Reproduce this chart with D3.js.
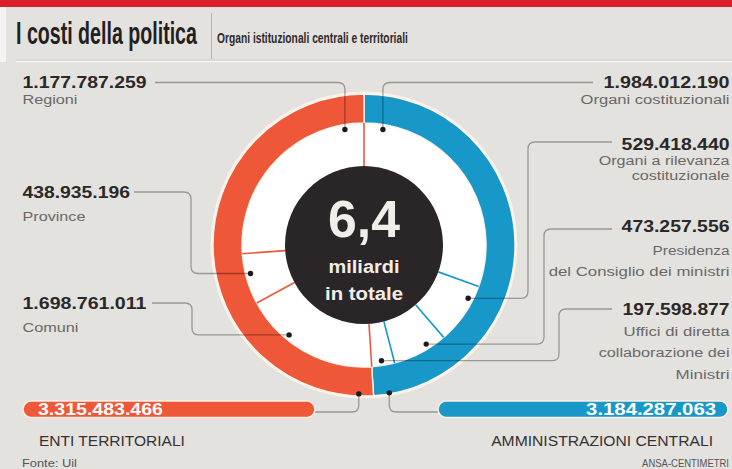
<!DOCTYPE html>
<html><head><meta charset="utf-8">
<script src="https://cdn.jsdelivr.net/npm/d3@7"></script>
<style>html,body{margin:0;padding:0;background:#e4e2de;}svg{display:block;}</style>
</head><body>
<svg id="c" width="732" height="469"></svg>
<script>
// ---------- DATA ----------
const categories = ["Organi costituzionali", "Organi a rilevanza costituzionale", "Presidenza del Consiglio dei ministri", "Uffici di diretta collaborazione dei Ministri", "Regioni", "Province", "Comuni"];
const values = [1984012190, 529418440, 473257556, 197598877, 1177787259, 438935196, 1698761011];
const groupOf = [0, 0, 0, 0, 1, 1, 1];
const groups = ["AMMINISTRAZIONI CENTRALI", "ENTI TERRITORIALI"];
const groupTotals = [3184287063, 3315483466];
const totalLabel = ["6,4", "miliardi", "in totale"];
const labelLines = [["Organi costituzionali"], ["Organi a rilevanza", "costituzionale"], ["Presidenza", "del Consiglio dei ministri"], ["Uffici di diretta", "collaborazione dei", "Ministri"], ["Regioni"], ["Province"], ["Comuni"]];
const titleText = "I costi della politica";
const subtitleText = "Organi istituzionali centrali e territoriali";
const sourceText = "Fonte: Uil";
const creditText = "ANSA-CENTIMETRI";

// ---------- STYLE / LAYOUT ----------
const W = 732, H = 469;
const cx = 364, cy = 245;
const R = 151, Rin = 122, Rc = 79, Rdot = 117;
const groupColor = ["#1898c9", "#ef5739"];
const FONT = '"Liberation Sans Narrow","Liberation Sans",Arial,sans-serif';
const fmt = d3.formatLocale({decimal: ",", thousands: ".", grouping: [3], currency: ["", "€"]}).format(",");

const svg = d3.select("#c");
svg.append("rect").attr("width", W).attr("height", H).attr("fill", "#e4e2de");
svg.append("rect").attr("x", 0).attr("y", 0).attr("width", W).attr("height", 7).attr("fill", "#d91f27");
svg.append("rect").attr("x", 0).attr("y", 7).attr("width", 6).attr("height", 55).attr("fill", "#f4f3f1");
svg.append("line").attr("x1", 16).attr("x2", W).attr("y1", 61.5).attr("y2", 61.5).attr("stroke", "#f6f5f2").attr("stroke-width", 1.5);
svg.append("line").attr("x1", 16).attr("x2", W).attr("y1", 60).attr("y2", 60).attr("stroke", "#cfcdc8").attr("stroke-width", 1);
svg.append("line").attr("x1", 211.5).attr("x2", 211.5).attr("y1", 13).attr("y2", 59).attr("stroke", "#b5b3ae").attr("stroke-width", 1);

// text squeezed horizontally to a given width
function txt(x, y, s, o) {
  const gg = svg.append("g");
  const t = gg.append("text").attr("x", 0).attr("y", 0).text(s)
    .attr("font-family", FONT).attr("font-size", o.size).attr("font-weight", o.weight || 400)
    .attr("fill", o.fill || "#333").attr("text-anchor", o.anchor || "start");
  let sx = 1;
  if (o.width) { const n = t.node().getComputedTextLength(); if (n > 0) sx = o.width / n; }
  gg.attr("transform", `translate(${x},${y}) scale(${sx},1)`);
  return t;
}

txt(16, 43.5, titleText, {size: 32, weight: 700, fill: "#231f20", width: 181});
txt(217, 42.5, subtitleText, {size: 14, weight: 700, fill: "#2e2b2b", width: 191});

// ---------- PIE ----------
const deg = Math.PI / 180;
const pie = d3.pie().sort(null).value(d => d);
const arcsItem = pie(values);
const arcsGroup = pie(groupTotals);
const g = svg.append("g").attr("transform", `translate(${cx},${cy})`);

g.append("circle").attr("r", R + 1.2).attr("fill", "none").attr("stroke", "#fbf1e6").attr("stroke-width", 2.4);
g.append("circle").attr("r", Rin).attr("fill", "#ffffff");
const ringArc = d3.arc().innerRadius(Rin).outerRadius(R);
g.selectAll("path.ring").data(arcsGroup).join("path").attr("class", "ring")
  .attr("d", ringArc).attr("fill", (d, i) => groupColor[i])
  .attr("stroke", "#fdf6ee").attr("stroke-width", 1.4);

const divs = [];
arcsItem.forEach((a, i) => {
  if (groupOf[i] === 0) { if (i > 0) divs.push({ang: a.startAngle, c: groupColor[0]}); }
  else {
    divs.push({ang: a.startAngle, c: groupColor[1]});
    if (i === values.length - 1) divs.push({ang: a.endAngle, c: groupColor[1]});
  }
});
g.selectAll("line.div").data(divs).join("line").attr("class", "div")
  .attr("x1", d => Rc * Math.sin(d.ang)).attr("y1", d => -Rc * Math.cos(d.ang))
  .attr("x2", d => Rin * Math.sin(d.ang)).attr("y2", d => -Rin * Math.cos(d.ang))
  .attr("stroke", d => d.c).attr("stroke-width", 1.6);

g.append("circle").attr("r", Rc).attr("fill", "#2a2526");
txt(cx, 237, totalLabel[0], {size: 52, weight: 700, fill: "#f1ede9", anchor: "middle", width: 72});
txt(cx, 273, totalLabel[1], {size: 19, weight: 700, fill: "#f1ede9", anchor: "middle", width: 71});
txt(cx, 299.5, totalLabel[2], {size: 19, weight: 700, fill: "#f1ede9", anchor: "middle", width: 78});

// ---------- LABELS ----------
const polar = (angDeg, r) => [cx + r * Math.sin(angDeg * deg), cy - r * Math.cos(angDeg * deg)];
const layout = [
  {side: "R", x: 729.5, numY: 87.5,  numW: 126, lineY: [103.5], lineW: [149], start: [593, 82.5], anchor: 9.3},
  {side: "R", x: 729.5, numY: 149.5, numW: 108, lineY: [164.5, 180], lineW: [131, 98], start: [612, 142], xv: 528, anchor: 117.1},
  {side: "R", x: 729.5, numY: 231.5, numW: 108, lineY: [255, 276], lineW: [77, 181], start: [612, 229], xv: 544, anchor: 147.9},
  {side: "R", x: 729.5, numY: 315, numW: 107, lineY: [335.5, 356.5, 378.5], lineW: [106, 131, 54], start: [612, 309], xv: 559, anchor: 171.4},
  {side: "L", x: 22.5, numY: 87.5,  numW: 124, lineY: [103.5], lineW: [55], start: [155, 82.5], anchor: 350.6},
  {side: "L", x: 22.5, numY: 198, numW: 107.5, lineY: [220.5], lineW: [63], start: [134, 192], xv: 191, anchor: 255.9},
  {side: "L", x: 22.5, numY: 309, numW: 124, lineY: [331.5], lineW: [56], start: [152, 303], xv: 192, anchor: 219.8}
];
const rr = 7;
function leader(L) {
  const [x0, y0] = L.start;
  const [xd, yd] = polar(L.anchor, Rdot);
  const p = d3.path();
  p.moveTo(x0, y0);
  if (L.xv === undefined) {
    const s = Math.sign(xd - x0);
    p.lineTo(xd - s * rr, y0);
    p.quadraticCurveTo(xd, y0, xd, y0 + rr);
    p.lineTo(xd, yd);
  } else {
    const s1 = Math.sign(L.xv - x0), s2 = Math.sign(yd - y0), s3 = Math.sign(xd - L.xv);
    const r2 = Math.min(rr, Math.abs(yd - y0) / 2);
    p.lineTo(L.xv - s1 * rr, y0);
    p.quadraticCurveTo(L.xv, y0, L.xv, y0 + s2 * r2);
    p.lineTo(L.xv, yd - s2 * r2);
    p.quadraticCurveTo(L.xv, yd, L.xv + s3 * rr, yd);
    p.lineTo(xd, yd);
  }
  return {d: p.toString(), dot: [xd, yd]};
}
const leadG = svg.append("g");
const dotG = svg.append("g");
layout.forEach((L, i) => {
  const ld = leader(L);
  leadG.append("path").attr("d", ld.d).attr("fill", "none").attr("stroke", "#000").attr("stroke-opacity", 0.33).attr("stroke-width", 1.3);
  dotG.append("circle").attr("cx", ld.dot[0]).attr("cy", ld.dot[1]).attr("r", 2.7).attr("fill", "#1d1a1a");
  const anchor = L.side === "R" ? "end" : "start";
  txt(L.x, L.numY, fmt(values[i]), {size: 16.5, weight: 700, fill: "#2b2828", anchor, width: L.numW});
  labelLines[i].forEach((s, k) => txt(L.x, L.lineY[k], s, {size: 13.5, weight: 400, fill: "#6a6867", anchor, width: L.lineW[k]}));
});

// ---------- GROUP PILLS ----------
const pills = [
  {x: 438, w: 290, anchor: 170.3, r: 150, textX: 716, tw: 130, ta: "end", nameX: 713, nameW: 222, joinX: 438},
  {x: 23, w: 292, anchor: 182, r: 149, textX: 38, tw: 125, ta: "start", nameX: 39, nameW: 146, joinX: 315}
];
const pillY = 401, pillH = 16.5, joinY = 412;
pills.forEach((P, i) => {
  svg.append("rect").attr("x", P.x).attr("y", pillY).attr("width", P.w).attr("height", pillH)
    .attr("rx", pillH / 2).attr("fill", groupColor[i]).attr("stroke", "#fcefe2").attr("stroke-width", 1.5);
  txt(P.textX, 415, fmt(groupTotals[i]), {size: 16.5, weight: 700, fill: "#ffffff", anchor: P.ta, width: P.tw});
  txt(P.nameX, 446, groups[i], {size: 15, weight: 400, fill: "#353232", anchor: P.ta, width: P.nameW});
  const [xd, yd] = polar(P.anchor, P.r);
  const s = Math.sign(P.joinX - xd);
  const p = d3.path();
  p.moveTo(xd, yd); p.lineTo(xd, joinY - rr); p.quadraticCurveTo(xd, joinY, xd + s * rr, joinY); p.lineTo(P.joinX, joinY);
  leadG.append("path").attr("d", p.toString()).attr("fill", "none").attr("stroke", "#000").attr("stroke-opacity", 0.33).attr("stroke-width", 1.3);
  dotG.append("circle").attr("cx", xd).attr("cy", yd).attr("r", 2.7).attr("fill", "#1d1a1a");
});

txt(22, 466.5, sourceText, {size: 10, weight: 400, fill: "#555", width: 55});
txt(729, 466.5, creditText, {size: 10, weight: 400, fill: "#555", anchor: "end", width: 87});
</script>
</body></html>
